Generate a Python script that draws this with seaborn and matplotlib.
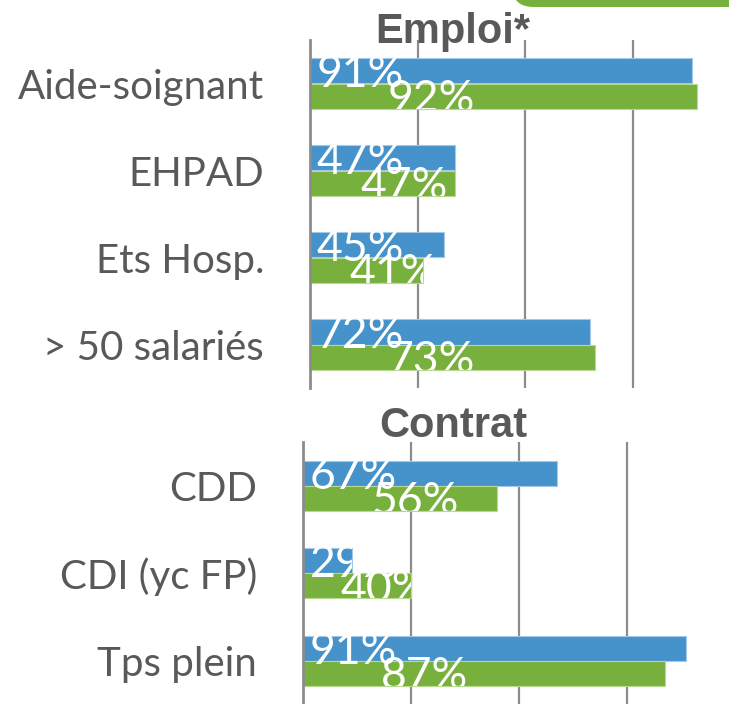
import matplotlib
matplotlib.use("Agg")
import matplotlib.pyplot as plt
import seaborn as sns
import pandas as pd
from matplotlib.transforms import Bbox, TransformedBbox
from matplotlib.patches import FancyBboxPatch
from matplotlib.ticker import FixedLocator

# ---- data ----
emploi_cats = ["Aide-soignant", "EHPAD", "Ets Hosp.", "> 50 salariés"]
emploi_s1 = [0.91, 0.47, 0.45, 0.72]
emploi_s2 = [0.92, 0.47, 0.41, 0.73]
contrat_cats = ["CDD", "CDI (yc FP)", "Tps plein"]
contrat_s1 = [0.67, 0.29, 0.91]
contrat_s2 = [0.56, 0.40, 0.87]
series_names = ["Série 1", "Série 2"]
titles = ["Emploi*", "Contrat"]

BLUE = "#4593CA"
GREEN = "#78B03E"
GREY = "#595959"
LINE = "#8C8C8C"

sns.set_theme(style="white")
plt.rcParams["font.family"] = ["Lato", "DejaVu Sans"]

W, H = 729, 704
fig = plt.figure(figsize=(W / 100, H / 100), dpi=100)


def px_axes(x0, y0, x1, y1):
    return fig.add_axes([x0 / W, 1 - y1 / H, (x1 - x0) / W, (y1 - y0) / H])


def panel(ax, cats, s1, s2, title, title_xy):
    df = pd.DataFrame({
        "cat": cats * 2,
        "val": list(s1) + list(s2),
        "serie": [series_names[0]] * len(cats) + [series_names[1]] * len(cats),
    })
    sns.barplot(data=df, y="cat", x="val", hue="serie", orient="h",
                palette=[BLUE, GREEN], saturation=1, width=0.575,
                legend=False, ax=ax, linewidth=0, zorder=3)
    n = len(cats)
    for p, c in zip(ax.patches, ["#A3C8E8"] * n + ["#B9D993"] * n):
        p.set_edgecolor(c)
        p.set_linewidth(0.8)
    ax.set_xlim(0.2, 1.0)
    ax.set_ylim(n - 0.5, -0.5)
    ax.set_xlabel("")
    ax.set_ylabel("")
    ax.set_xticks([0.4, 0.6, 0.8, 1.0])
    ax.set_xticklabels([])
    ax.tick_params(axis="x", length=0)
    ax.grid(axis="x", color=LINE, linewidth=1.6, zorder=0)
    ax.set_axisbelow(True)
    for s in ["top", "right", "bottom"]:
        ax.spines[s].set_visible(False)
    ax.spines["left"].set_color(LINE)
    ax.spines["left"].set_linewidth(2.0)
    ax.spines["left"].set_zorder(5)
    ax.tick_params(axis="y", which="major", length=0, pad=33,
                   labelsize=29, labelcolor=GREY)
    ax.yaxis.set_minor_locator(FixedLocator([i - 0.5 for i in range(n + 1)]))
    ax.tick_params(axis="y", which="minor", length=11, width=2.0, color=LINE)
    for lab in ax.get_yticklabels():
        lab.set_family(["Lato", "DejaVu Sans"])

    ax.text(title_xy[0], title_xy[1], title, transform=ax.transAxes,
            ha="center", va="baseline", fontsize=30, fontweight="bold",
            color=GREY, family=["Liberation Sans", "DejaVu Sans"], zorder=6)

    bars = list(ax.patches)
    blue_bars = bars[:n]
    green_bars = bars[n:]
    for i in range(n):
        bb = blue_bars[i]
        gb = green_bars[i]
        boxes = []
        for p in (bb, gb):
            x0, y0 = p.get_x(), p.get_y()
            boxes.append(TransformedBbox(
                Bbox.from_extents(x0, y0, x0 + p.get_width(), y0 + p.get_height()),
                ax.transData))
        v1 = bb.get_width()
        v2 = gb.get_width()
        items = [
            (0.212, bb.get_y() + bb.get_height() + 0.04, f"{round(v1 * 100):.0f}%"),
            (min(0.345, 0.2 + (v2 - 0.2) * 0.35),
             gb.get_y() + gb.get_height() + 0.04, f"{round(v2 * 100):.0f}%"),
        ]
        for (x, y, s) in items:
            for box in boxes:
                t = ax.text(x, y, s, ha="left", va="baseline", fontsize=32,
                            color="white", zorder=7,
                            family=["Lato", "DejaVu Sans"])
                t.set_clip_on(True)
                t.set_clip_box(box)


ax1 = px_axes(310, 40, 740, 388)
panel(ax1, emploi_cats, emploi_s1, emploi_s2, titles[0], (0.333, 0.991))
ax2 = px_axes(303, 442, 735, 704.5)
panel(ax2, contrat_cats, contrat_s1, contrat_s2, titles[1], (0.347, 1.019))

# green shape at top-right (partial legend/banner of original slide)
banner = FancyBboxPatch((512 / W, 1 - 7 / H), 300 / W, 40 / H,
                        boxstyle="round,pad=0,rounding_size=0.03",
                        transform=fig.transFigure, facecolor=GREEN,
                        edgecolor="none", clip_on=False)
fig.patches.append(banner)

fig.savefig("out.png", dpi=100)
